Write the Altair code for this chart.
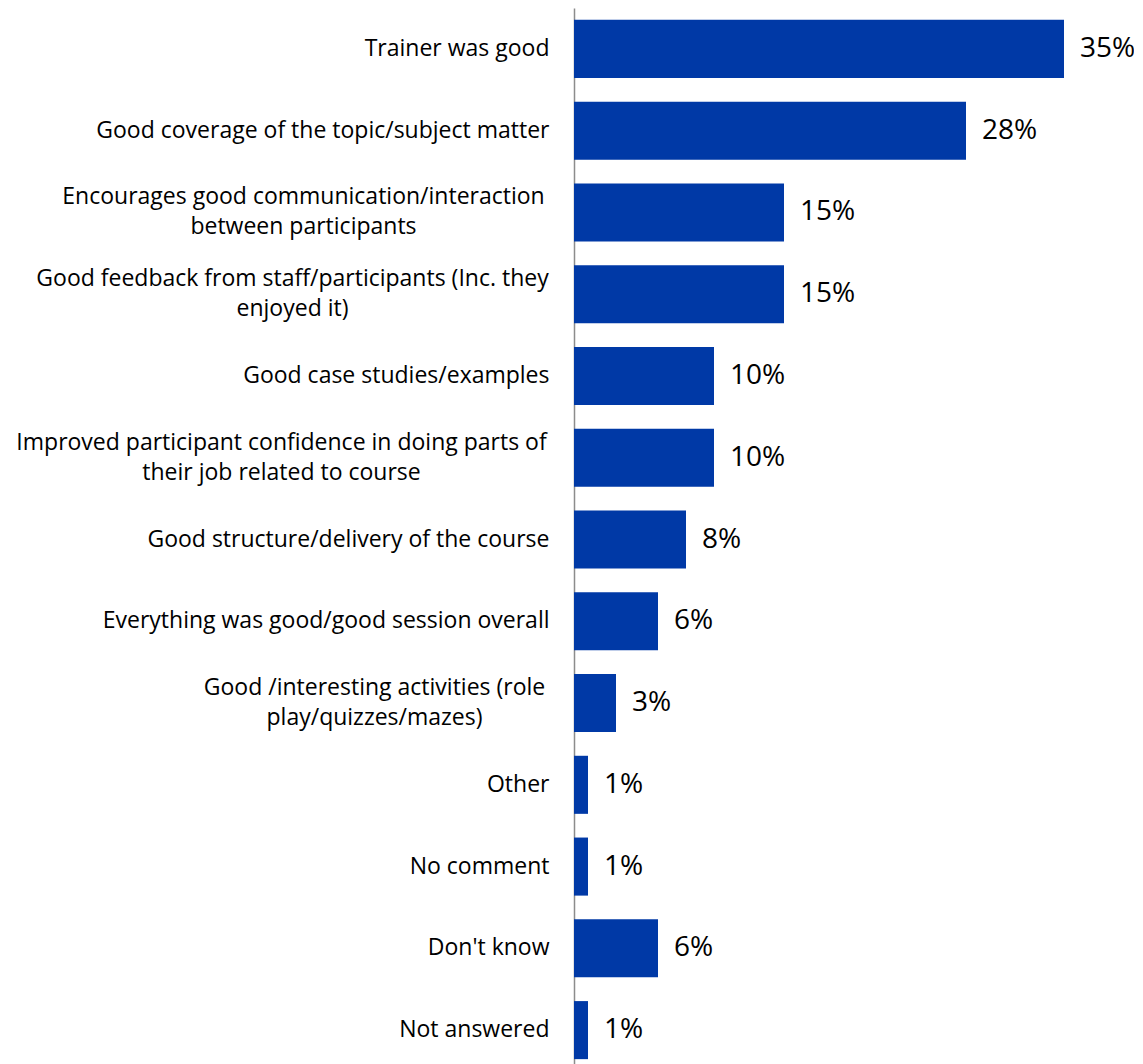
import altair as alt
import pandas as pd

categories = [
    "Trainer was good",
    "Good coverage of the topic/subject matter",
    "Encourages good communication/interaction|between participants",
    "Good feedback from staff/participants (Inc. they|enjoyed it)",
    "Good case studies/examples",
    "Improved participant confidence in doing parts of|their job related to course",
    "Good structure/delivery of the course",
    "Everything was good/good session overall",
    "Good /interesting activities (role|play/quizzes/mazes)",
    "Other",
    "No comment",
    "Don't know",
    "Not answered",
]
values = [35, 28, 15, 15, 10, 10, 8, 6, 3, 1, 1, 6, 1]
value_labels = ["35%", "28%", "15%", "15%", "10%", "10%", "8%", "6%", "3%", "1%", "1%", "6%", "1%"]

df = pd.DataFrame({"cat": categories, "val": values, "lab": value_labels})

FONT = "Open Sans"
BAR = "#0039A6"

# two-line labels are centred on their first line (as in the original)
centre_pad = [
    {"test": "indexof(datum.value, 'Encourages') == 0", "value": 271},
    {"test": "indexof(datum.value, 'Good feedback') == 0", "value": 282},
    {"test": "indexof(datum.value, 'Improved') == 0", "value": 293},
    {"test": "indexof(datum.value, 'Good /interesting') == 0", "value": 200},
]
multi = "indexof(datum.value, '|') >= 0"

y_enc = alt.Y(
    "cat:N",
    sort=categories,
    scale=alt.Scale(paddingInner=0.29, paddingOuter=0.145),
    axis=alt.Axis(
        title=None,
        ticks=False,
        domainColor="#8c8c8c",
        domainWidth=1.5,
        labelFont=FONT,
        labelFontSize=23,
        labelColor="#000000",
        labelPadding={"condition": centre_pad, "value": 25},
        labelLimit=0,
        labelLineHeight=30,
        labelBaseline="middle",
        labelAlign={"condition": {"test": multi, "value": "center"}, "value": "right"},
        labelOffset={"condition": {"test": multi, "value": -15}, "value": 0},
        labelExpr="split(datum.label, '|')",
    ),
)
x_enc = alt.X("val:Q", scale=alt.Scale(domain=[0, 40]), axis=None)

bars = alt.Chart(df).mark_bar(color=BAR).encode(x=x_enc, y=y_enc)
text = alt.Chart(df).mark_text(
    align="left", baseline="middle", dx=16, font=FONT, fontSize=28, color="#000000"
).encode(x=x_enc, y=alt.Y("cat:N", sort=categories), text="lab:N")

chart = (
    alt.layer(bars, text)
    .properties(
        width=560,
        height=1063,
        autosize=alt.AutoSizeParams(type="none"),
        padding={"left": 574, "top": 8, "right": 0, "bottom": 0},
    )
    .configure_view(stroke=None)
)

chart.save("out.html", embed_options={"renderer": "svg", "actions": False})
